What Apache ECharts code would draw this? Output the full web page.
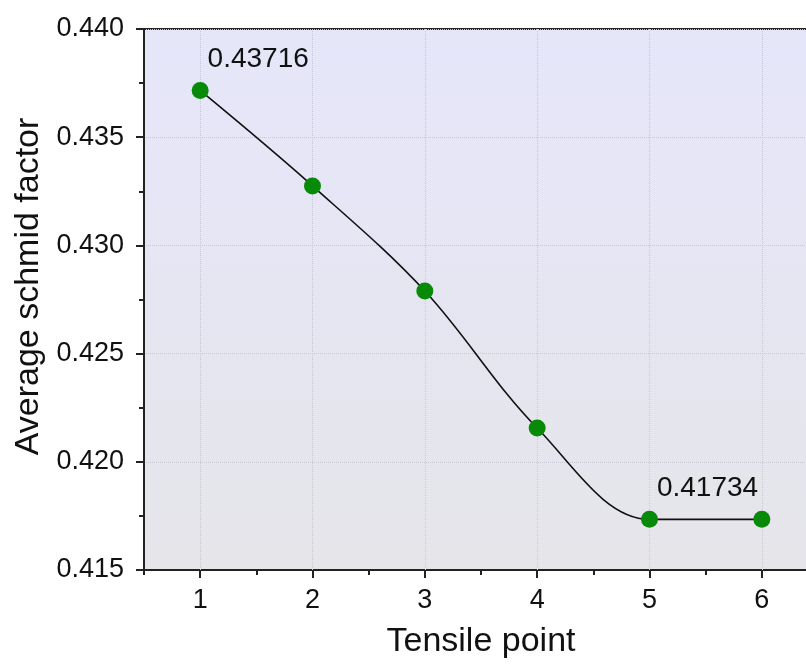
<!DOCTYPE html>
<html>
<head>
<meta charset="utf-8">
<script src="https://cdn.jsdelivr.net/npm/echarts@6/dist/echarts.min.js"></script>
<style>
html,body{margin:0;padding:0;background:#fff;}
#chart{width:806px;height:664px;}
</style>
</head>
<body>
<div id="chart"></div>
<script>
const tensilePoints = [1, 2, 3, 4, 5, 6];
const schmidFactor = [0.43716, 0.43275, 0.42789, 0.42156, 0.41734, 0.41734];
const labeledIndices = [0, 4];
const xTicks = [1, 2, 3, 4, 5, 6];
const yTicks = [0.415, 0.420, 0.425, 0.430, 0.435, 0.440];

const FONT = '"Liberation Sans", Arial, sans-serif';
const chart = echarts.init(document.getElementById('chart'), null, {renderer: 'canvas'});

const seriesData = tensilePoints.map((x, i) => {
  const item = {value: [x, schmidFactor[i]]};
  if (labeledIndices.includes(i)) {
    item.label = {
      show: true,
      position: 'top',
      offset: [58, -4],
      formatter: (p) => p.value[1].toFixed(5),
      fontSize: 28,
      fontFamily: FONT,
      color: '#111'
    };
  }
  return item;
});

chart.setOption({
  animation: false,
  backgroundColor: '#ffffff',
  grid: {
    left: 144,
    top: 29,
    bottom: 94,
    right: -12,
    outerBoundsMode: 'none',
    containLabel: false,
    show: true,
    borderColor: '#222',
    borderWidth: 2,
    backgroundColor: {
      type: 'linear', x: 0, y: 0, x2: 0, y2: 1,
      colorStops: [
        {offset: 0, color: '#e6e6fa'},
        {offset: 1, color: '#e5e5ea'}
      ]
    }
  },
  xAxis: [{
    type: 'value',
    min: 0.5,
    max: 6.5,
    interval: 0.5,
    name: 'Tensile point',
    nameLocation: 'middle',
    nameGap: 55,
    nameTextStyle: {fontSize: 34, fontFamily: FONT, color: '#111'},
    axisLine: {show: true, onZero: false, lineStyle: {color: '#222', width: 2}},
    axisTick: {show: true, inside: false, length: 8, customValues: xTicks, lineStyle: {color: '#222', width: 2}},
    axisLabel: {
      fontSize: 27, fontFamily: FONT, color: '#111', margin: 17,
      customValues: xTicks,
      formatter: (v) => String(v)
    },
    splitLine: {show: false}
  }, {
    type: 'value',
    min: 0.5,
    max: 6.5,
    interval: 0.5,
    position: 'bottom',
    axisLine: {show: false},
    axisTick: {show: true, inside: false, length: 5, lineStyle: {color: '#222', width: 2}},
    axisLabel: {show: false},
    splitLine: {show: false}
  }],
  yAxis: {
    type: 'value',
    min: yTicks[0],
    max: yTicks[yTicks.length - 1],
    interval: 0.005,
    name: 'Average schmid factor',
    nameLocation: 'middle',
    nameGap: 96,
    nameTextStyle: {fontSize: 34, fontFamily: FONT, color: '#111', padding: [0, 0, 0, 26]},
    axisLine: {show: true, lineStyle: {color: '#222', width: 2}},
    axisTick: {show: true, inside: false, length: 8, lineStyle: {color: '#222', width: 2}},
    minorTick: {show: true, splitNumber: 2, length: 5, lineStyle: {color: '#222', width: 2}},
    axisLabel: {
      fontSize: 27, fontFamily: FONT, color: '#111', margin: 20,
      formatter: (v) => v.toFixed(3)
    },
    splitLine: {show: true, lineStyle: {color: '#c8c8d4', type: 'dotted', width: 1}}
  },
  series: [{
    type: 'line',
    xAxisIndex: 0,
    data: seriesData,
    smooth: 0.35,
    symbol: 'circle',
    symbolSize: 17,
    lineStyle: {color: '#111', width: 1.6},
    itemStyle: {color: '#078a07', borderWidth: 0},
    label: {show: false},
    markLine: {
      silent: true,
      symbol: 'none',
      label: {show: false},
      lineStyle: {color: '#c8c8d4', type: 'dotted', width: 1},
      data: xTicks.map((v) => ({xAxis: v}))
    },
    z: 5
  }]
});
</script>
</body>
</html>
